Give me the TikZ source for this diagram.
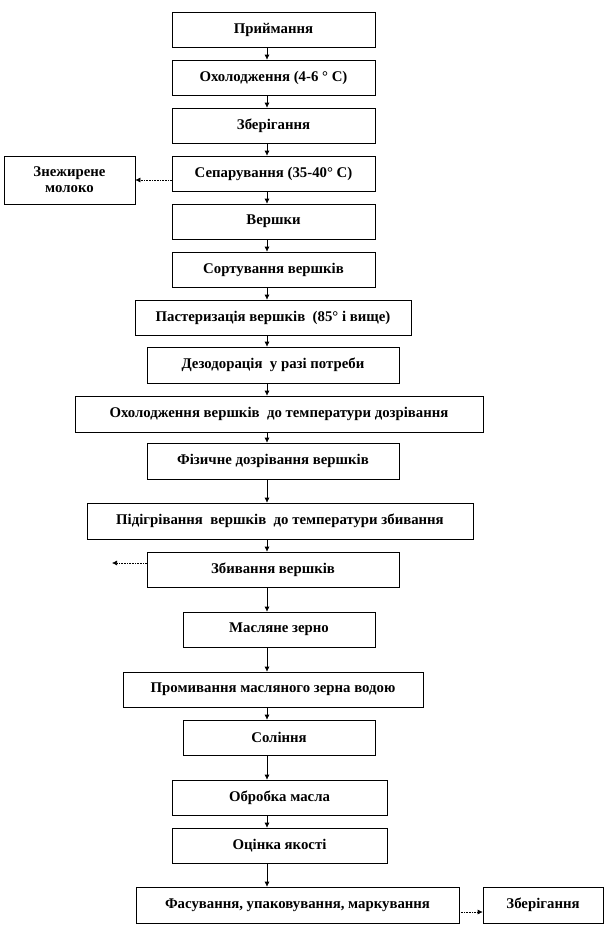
\documentclass[tikz,border=0pt]{standalone}
\usepackage{fontspec}
\setmainfont{Liberation Serif}
\usetikzlibrary{arrows.meta,shadows}
\begin{document}
\begin{tikzpicture}[x=1bp,y=-1bp,
  box/.style={draw=black, line width=0.6bp, fill=white, inner sep=0pt, align=center,
    font=\bfseries\fontsize{14.8bp}{16bp}\selectfont,
    drop shadow={shadow xshift=1.2bp, shadow yshift=-1.2bp, fill=gray!70, opacity=1}},
  varr/.style={draw=black, line width=0.6bp, -{Latex[length=5bp,width=5bp]}},
  harr/.style={draw=black, line width=0.6bp, densely dotted, -{Latex[length=5bp,width=5bp]}}]
\useasboundingbox (0,0) rectangle (615,927);
\newcommand{\bx}[6]{\node[box, minimum width={(#4-#2)*1bp}, minimum height={(#5-#3)*1bp}] (#1) at ({(#2+#4)/2},{(#3+#5)/2}) {#6};}
\coordinate (t) at (267,0);
\bx{b1}{172}{12}{375}{47}{Приймання}
\bx{b2}{172}{60}{375}{95}{Охолодження (4-6 ° С)}
\bx{b3}{172}{108}{375}{143}{Зберігання}
\bx{b4}{172}{156}{375}{191}{Сепарування (35-40° С)}
\bx{zn}{4}{156}{135}{204}{Знежирене\\молоко}
\bx{b5}{172}{204}{375}{239}{Вершки}
\bx{b6}{172}{252}{375}{287}{Сортування вершків}
\bx{b7}{135}{300}{411}{335}{Пастеризація вершків\ \ (85° і вище)}
\bx{b8}{147}{347}{399}{383}{Дезодорація\ \ у разі потреби}
\bx{b9}{75}{396}{483}{432}{Охолодження вершків\ \ до температури дозрівання}
\bx{b10}{147}{443}{399}{479}{Фізичне дозрівання вершків}
\bx{b11}{87}{503}{473}{539}{Підігрівання\ \ вершків\ \ до температури збивання}
\bx{b12}{147}{552}{399}{587}{Збивання вершків}
\bx{b13}{183}{612}{375}{647}{Масляне зерно}
\bx{b14}{123}{672}{423}{707}{Промивання масляного зерна водою}
\bx{b15}{183}{720}{375}{755}{Соління}
\bx{b16}{172}{780}{387}{815}{Обробка масла}
\bx{b17}{172}{828}{387}{863}{Оцінка якості}
\bx{b18}{136}{887}{459}{923}{Фасування, упаковування, маркування}
\bx{zb}{483}{887}{603}{923}{Зберігання}
\foreach \a/\b in {b1/b2,b2/b3,b3/b4,b4/b5,b5/b6,b6/b7,b7/b8,b8/b9,b9/b10,b10/b11,b11/b12,b12/b13,b13/b14,b14/b15,b15/b16,b16/b17,b17/b18}
  \draw[varr] (\a.south -| t) -- (\b.north -| t);
\draw[harr] (b4.west |- zn.east) -- (zn.east);
\coordinate (out) at (112,563);
\draw[harr] (b12.west |- out) -- (out);
\draw[harr] ([yshift=-7bp]b18.east) -- ([yshift=-7bp]zb.west);
\end{tikzpicture}
\end{document}
